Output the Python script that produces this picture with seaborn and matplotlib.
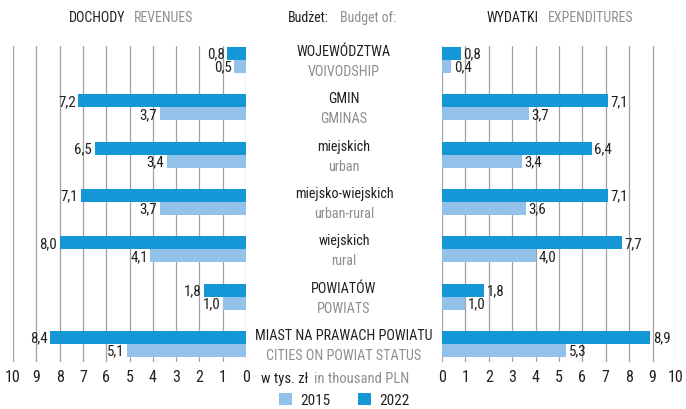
import matplotlib
matplotlib.use("Agg")
import matplotlib.pyplot as plt
from matplotlib import font_manager
from matplotlib.patches import Patch
from matplotlib.transforms import blended_transform_factory
import seaborn as sns
import pandas as pd

# --- data (thousand PLN per capita) ---
categories_pl = ["WOJEWÓDZTWA", "GMIN", "miejskich", "miejsko-wiejskich",
                 "wiejskich", "POWIATÓW", "MIAST NA PRAWACH POWIATU"]
categories_en = ["VOIVODSHIP", "GMINAS", "urban", "urban-rural",
                 "rural", "POWIATS", "CITIES ON POWIAT STATUS"]
years = ["2015", "2022"]
revenues_2015 = [0.5, 3.7, 3.4, 3.7, 4.1, 1.0, 5.1]
revenues_2022 = [0.8, 7.2, 6.5, 7.1, 8.0, 1.8, 8.4]
expenditures_2015 = [0.4, 3.7, 3.4, 3.6, 4.0, 1.0, 5.3]
expenditures_2022 = [0.8, 7.1, 6.4, 7.1, 7.7, 1.8, 8.9]
x_ticks = list(range(0, 11))

# --- style ---
sns.set_theme(style="white")
available = {f.name for f in font_manager.fontManager.ttflist}
family = [f for f in ["Liberation Sans Narrow", "Roboto Condensed", "Liberation Sans", "DejaVu Sans"]
          if f in available]
plt.rcParams["font.family"] = family

DARK_TXT = "#231f20"
GREY_TXT = "#8e8e8e"
GRID = "#a0a0a0"
C2015 = "#92c1e9"
C2022 = "#1596d6"
palette = {"2015": C2015, "2022": C2022}


def long_frame(v2015, v2022):
    rows = []
    for cat, a, b in zip(categories_pl, v2015, v2022):
        rows.append({"cat": cat, "year": "2022", "value": b})
        rows.append({"cat": cat, "year": "2015", "value": a})
    return pd.DataFrame(rows)


rev = long_frame(revenues_2015, revenues_2022)
exp_ = long_frame(expenditures_2015, expenditures_2022)

W, H = 686, 410
fig = plt.figure(figsize=(W / 100, H / 100), dpi=100)

ax_top, ax_bot = 46.8, 363.0
bottom = 1 - ax_bot / H
height = (ax_bot - ax_top) / H
ax_l = fig.add_axes([13 / W, bottom, 233 / W, height])
ax_r = fig.add_axes([442 / W, bottom, 234 / W, height])


def fmt(v):
    return f"{v:.1f}".replace(".", ",")


for ax, df, inverted in ((ax_l, rev, True), (ax_r, exp_, False)):
    sns.barplot(data=df, y="cat", x="value", hue="year", hue_order=["2022", "2015"],
                order=categories_pl, palette=palette, orient="h", width=0.55,
                saturation=1, legend=False, ax=ax, zorder=3, linewidth=0)
    ax.set_xlim((10, 0) if inverted else (0, 10))
    ax.set_ylim(6.38, -0.3)
    ax.set_xticks(x_ticks)
    ax.set_xticklabels([str(t) for t in x_ticks], fontsize=11.5, color=DARK_TXT)
    ax.tick_params(axis="x", length=0, pad=5)
    ax.set_yticks([])
    ax.set_xlabel("")
    ax.set_ylabel("")
    for s in ax.spines.values():
        s.set_visible(False)
    ax.grid(False)
    for t in x_ticks:
        ax.axvline(t, color=GRID, lw=0.9, zorder=1)
    for cont in ax.containers:
        ax.bar_label(cont, labels=[fmt(v) for v in cont.datavalues],
                     padding=1.8, fontsize=10.8, color=DARK_TXT, zorder=4)

# centre labels between the panels
trans = blended_transform_factory(fig.transFigure, ax_r.transData)
cx = 344 / W
for i, (pl, en) in enumerate(zip(categories_pl, categories_en)):
    fig.text(cx, i - 0.19, pl, transform=trans, ha="center", va="center",
             fontsize=10.2, color=DARK_TXT)
    fig.text(cx, i + 0.23, en, transform=trans, ha="center", va="center",
             fontsize=10.2, color=GREY_TXT)

# header
hy = 1 - 18 / H
for x, s, c in ((69, "DOCHODY", DARK_TXT), (134, "REVENUES", GREY_TXT),
                (288, "Budżet:", DARK_TXT), (340, "Budget of:", GREY_TXT),
                (487, "WYDATKI", DARK_TXT), (548, "EXPENDITURES", GREY_TXT)):
    fig.text(x / W, hy, s, ha="left", va="center", fontsize=10, color=c)

# unit caption
uy = 1 - 379 / H
fig.text(308 / W, uy, "w tys. zł", ha="right", va="center", fontsize=10.5, color=DARK_TXT)
fig.text(314 / W, uy, "in thousand PLN", ha="left", va="center", fontsize=10.5, color=GREY_TXT)

# legend
handles = [Patch(facecolor=palette[y], edgecolor="none", label=y) for y in years]
fig.legend(handles=handles, loc="center", bbox_to_anchor=(344 / W, 1 - 401 / H),
           ncol=2, frameon=False, fontsize=11, handlelength=0.9, handleheight=0.9,
           columnspacing=1.8, handletextpad=0.5, labelcolor=DARK_TXT)

fig.savefig("out.png", dpi=100)
